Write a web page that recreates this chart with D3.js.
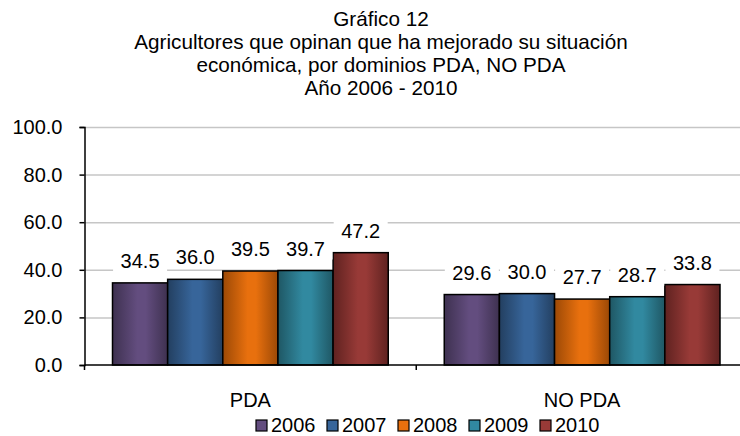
<!DOCTYPE html>
<html>
<head>
<meta charset="utf-8">
<script src="https://cdn.jsdelivr.net/npm/d3@7"></script>
<style>
  body { margin: 0; background: #fff; }
  svg text { font-family: "Liberation Sans", Arial, sans-serif; fill: #000; }
  .axis path, .axis line { stroke: #000; stroke-width: 1.5; }
  .grid line { stroke: #c6c6c6; stroke-width: 1.5; }
  .grid path { display: none; }
</style>
</head>
<body>
<svg width="740" height="436"></svg>
<script>
// **** data ****
var categories = ["PDA", "NO PDA"];
var years = ["2006", "2007", "2008", "2009", "2010"];
var pdaValues = [34.5, 36.0, 39.5, 39.7, 47.2];
var noPdaValues = [29.6, 30.0, 27.7, 28.7, 33.8];
var yTicks = [0, 20, 40, 60, 80, 100];
var titleLines = ["Gráfico 12",
    "Agricultores que opinan que ha mejorado su situación",
    "económica, por dominios PDA, NO PDA",
    "Año 2006 - 2010"];

// colours per year: [edge, centre]
var yearColors = {
    "2006": ["#3e3150", "#634d7f"],
    "2007": ["#233f60", "#37659a"],
    "2008": ["#9c4906", "#e8700e"],
    "2009": ["#1f5764", "#3189a0"],
    "2010": ["#5f2220", "#983a37"]
};

var series = [pdaValues, noPdaValues];

var svg = d3.select('svg');

var plotLeft = 84.5, plotRight = 748, plotTop = 127, plotBottom = 365;

var x0 = d3.scaleBand().domain(categories).range([plotLeft, plotRight]);
var groupPad = 28;
var x1 = d3.scaleBand().domain(years)
    .range([groupPad, x0.bandwidth() - groupPad]);
var y = d3.scaleLinear().domain([0, 100]).range([plotBottom, plotTop]);

// gradients for the bars
var defs = svg.append('defs');
years.forEach(function(yr) {
    var g = defs.append('linearGradient')
        .attr('id', 'grad' + yr)
        .attr('x1', '0%').attr('x2', '100%').attr('y1', '0%').attr('y2', '0%');
    g.append('stop').attr('offset', '0%').attr('stop-color', yearColors[yr][0]);
    g.append('stop').attr('offset', '45%').attr('stop-color', yearColors[yr][1]);
    g.append('stop').attr('offset', '60%').attr('stop-color', yearColors[yr][1]);
    g.append('stop').attr('offset', '100%').attr('stop-color', yearColors[yr][0]);
});

// title
svg.append('g').selectAll('text')
    .data(titleLines)
    .enter()
    .append('text')
    .attr('x', 381)
    .attr('y', function(d, i) { return 26 + i * 23; })
    .attr('text-anchor', 'middle')
    .style('font-size', '20.7px')
    .text(function(d) { return d; });

// gridlines
svg.append('g').attr('class', 'grid')
    .attr('transform', 'translate(' + plotLeft + ',0)')
    .call(d3.axisRight(y).tickValues(yTicks.slice(1)).tickSize(plotRight - plotLeft).tickFormat(''));

// bars
var groups = svg.selectAll('g.cat')
    .data(categories)
    .enter()
    .append('g')
    .attr('class', 'cat')
    .attr('transform', function(d) { return 'translate(' + x0(d) + ',0)'; });

groups.selectAll('rect')
    .data(function(d, i) {
        return years.map(function(yr, j) { return {year: yr, value: series[i][j]}; });
    })
    .enter()
    .append('rect')
    .attr('x', function(d) { return x1(d.year); })
    .attr('y', function(d) { return y(d.value); })
    .attr('width', x1.bandwidth())
    .attr('height', function(d) { return y(0) - y(d.value); })
    .attr('fill', function(d) { return 'url(#grad' + d.year + ')'; })
    .attr('stroke', '#000')
    .attr('stroke-width', 1.5);

// data labels with white boxes
var labels = groups.selectAll('g.lbl')
    .data(function(d, i) {
        return years.map(function(yr, j) { return {year: yr, value: series[i][j]}; });
    })
    .enter()
    .append('g')
    .attr('class', 'lbl')
    .attr('transform', function(d) {
        return 'translate(' + (x1(d.year) + x1.bandwidth() / 2) + ',' + (y(d.value) - 15) + ')';
    });

labels.append('rect')
    .attr('x', -27).attr('y', -18)
    .attr('width', 54).attr('height', 22)
    .attr('fill', '#fff');

labels.append('text')
    .attr('text-anchor', 'middle')
    .style('font-size', '20px')
    .text(function(d) { return d.value.toFixed(1); });

// y axis
var yAxis = svg.append('g').attr('class', 'axis')
    .attr('transform', 'translate(' + plotLeft + ',0)')
    .call(d3.axisLeft(y).tickValues(yTicks).tickSize(5).tickPadding(17)
        .tickFormat(function(d) { return d.toFixed(1); }));
yAxis.selectAll('text').style('font-size', '20px');

// x axis
var xAxis = svg.append('g').attr('class', 'axis')
    .attr('transform', 'translate(0,' + plotBottom + ')')
    .call(d3.axisBottom(x0).tickSize(0).tickPadding(28));
xAxis.selectAll('text').style('font-size', '20px');
xAxis.select('.domain').attr('d', 'M' + plotLeft + ',0H' + plotRight);
xAxis.selectAll('.bound')
    .data(x0.domain().map(function(d) { return x0(d); }).concat([plotRight]))
    .enter()
    .append('line')
    .attr('class', 'bound')
    .attr('x1', function(d) { return d; }).attr('x2', function(d) { return d; })
    .attr('y1', 0).attr('y2', 5)
    .attr('stroke', '#000').attr('stroke-width', 1.5);

// legend
var legend = svg.append('g').attr('transform', 'translate(256,420)');
var lx = d3.scaleBand().domain(years).range([0, 355]);
var items = legend.selectAll('g')
    .data(years)
    .enter()
    .append('g')
    .attr('transform', function(d) { return 'translate(' + lx(d) + ',0)'; });
items.append('rect')
    .attr('width', 11).attr('height', 11)
    .attr('fill', function(d) { return yearColors[d][1]; })
    .attr('stroke', '#000').attr('stroke-width', 1.2);
items.append('text')
    .attr('x', 15).attr('y', 12)
    .style('font-size', '20px')
    .text(function(d) { return d; });
</script>
</body>
</html>
